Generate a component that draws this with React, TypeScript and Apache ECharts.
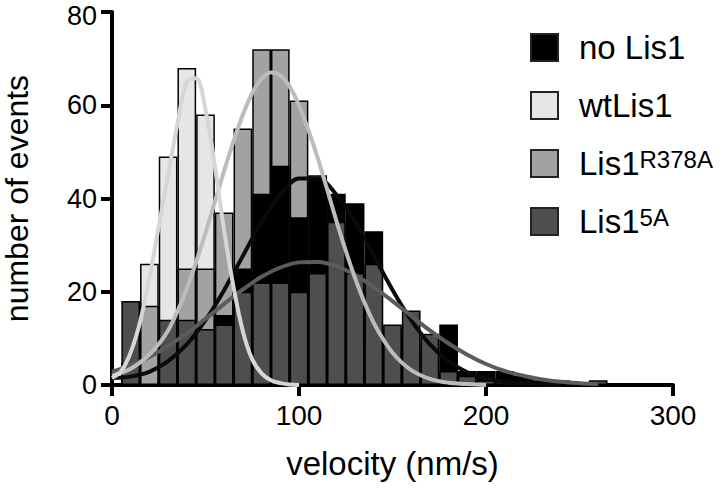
import React, { useEffect, useRef } from "react";
import * as echarts from "echarts";

const FONT = '"Liberation Sans", Arial, Helvetica, sans-serif';

// histogram bin centres (nm/s)
const bins = [10, 20, 30, 40, 50, 60, 70, 80, 90, 100, 110, 120, 130, 140, 150, 160, 170, 180, 190, 200, 210, 220, 230, 240, 250, 260];

// counts per bin
const wtLis1 = [5, 26, 49, 68, 58, 24, 7, 2, 1, 0, 0, 0, 0, 0, 0, 0, 0, 0, 0, 0, 0, 0, 0, 0, 0, 0];
const lis1R378A = [3, 17, 13, 25, 25, 37, 55, 72, 72, 61, 45, 30, 18, 10, 6, 3, 2, 1, 0, 0, 0, 0, 0, 0, 0, 0];
const noLis1 = [0, 0, 3, 6, 9, 15, 25, 41, 47, 36, 44, 41, 39, 33, 12, 10, 8, 13, 3, 3, 3, 2, 1, 1, 0, 0];
const lis15A = [18, 0, 14, 14, 12, 13, 20, 22, 22, 20, 24, 35, 24, 26, 13, 16, 11, 3, 2, 1, 1, 1, 0, 0, 0, 1];

// fitted curves: [velocity, events]
const wtFit = [[0, 1.5], [5, 3], [10, 7], [15, 13.5], [20, 23], [25, 34], [30, 45], [35, 56], [40, 65], [45, 65.8], [50, 59], [55, 47], [60, 33], [65, 21], [70, 11.5], [75, 5.5], [80, 2.5], [85, 1], [90, 0.4], [95, 0.1], [100, 0]];
const r378aFit = [[0, 2], [5, 2.6], [10, 3.5], [15, 4.8], [20, 6.5], [25, 8.8], [30, 11.7], [35, 15.8], [40, 20.7], [45, 26.4], [50, 32.6], [55, 39.3], [60, 46], [65, 52.3], [70, 58], [75, 62.6], [80, 65.7], [85, 67], [90, 66.4], [95, 64], [100, 60], [105, 54.7], [110, 48.7], [115, 42], [120, 35.2], [125, 28.8], [130, 22.9], [135, 17.7], [140, 13.3], [145, 9.8], [150, 6.9], [155, 4.8], [160, 3.2], [165, 2.1], [170, 1.3], [175, 0.8], [180, 0.5], [185, 0.3], [190, 0.2], [195, 0.1], [200, 0]];
const noLis1Fit = [[0, 1.5], [10, 1.8], [20, 2.8], [30, 5.1], [40, 8.7], [50, 13.9], [60, 20.4], [70, 27.7], [80, 35], [90, 40.8], [100, 44.3], [110, 44.3], [120, 40.8], [130, 35], [140, 27.7], [150, 20.4], [160, 13.9], [170, 8.7], [180, 5.1], [190, 2.7], [200, 1.4], [210, 0.6], [220, 0.3], [230, 0.1], [240, 0]];
const lis15AFit = [[0, 2.8], [10, 4.2], [20, 6], [30, 8.4], [40, 11.1], [50, 14.2], [60, 17.4], [70, 20.5], [80, 23.2], [90, 25.2], [100, 26.3], [110, 26.4], [120, 25.5], [130, 23.6], [140, 21], [150, 18], [160, 14.8], [170, 11.7], [180, 8.9], [190, 6.5], [200, 4.5], [210, 3], [220, 2], [230, 1.2], [240, 0.7], [250, 0.4], [260, 0.2]];

// axis ticks
const xMin = 0, xMax = 300, xStep = 100;
const yMin = 0, yMax = 80, yStep = 20;

const legendNames = ["no Lis1", "wtLis1", "Lis1R378A", "Lis15A"];
const legendMain: Record<string, string> = { "no Lis1": "no Lis1", wtLis1: "wtLis1", Lis1R378A: "Lis1", Lis15A: "Lis1" };
const legendSup: Record<string, string> = { "no Lis1": "", wtLis1: "", Lis1R378A: "R378A", Lis15A: "5A" };

const W = 722, H = 491;
const GRID = { left: 112, right: 49, top: 12, bottom: 106 };
const binWidth = 10;

export default function App() {
  const ref = useRef<HTMLDivElement>(null);
  useEffect(() => {
    if (!ref.current) return;
    const chart = echarts.init(ref.current, null, { renderer: "svg" });
    const plotW = W - GRID.left - GRID.right;
    const barW = (plotW / (xMax - xMin)) * binWidth;
    const toPairs = (arr: number[]) => bins.map((b, i) => [b, arr[i]]);

    const barSeries = (name: string, arr: number[], color: string) => ({
      type: "bar",
      name,
      data: toPairs(arr),
      barWidth: barW,
      barGap: "-100%",
      silent: true,
      z: 2,
      itemStyle: { color, borderColor: "#000", borderWidth: 1.5 },
    });
    const lineSeries = (name: string, data: number[][], color: string, z: number) => ({
      type: "line",
      name,
      data,
      smooth: 0.35,
      showSymbol: false,
      symbol: "none",
      silent: true,
      z,
      lineStyle: { color, width: 4 },
    });

    const axisCommon = {
      axisLine: { show: true, lineStyle: { color: "#000", width: 4 } },
      axisTick: { show: true, length: 11, lineStyle: { color: "#000", width: 4 } },
      splitLine: { show: false },
    };

    chart.setOption({
      animation: false,
      backgroundColor: "#fff",
      textStyle: { fontFamily: FONT },
      grid: { ...GRID, containLabel: false, outerBoundsMode: "none" },
      xAxis: {
        type: "value",
        min: xMin,
        max: xMax,
        interval: xStep,
        ...axisCommon,
        axisLabel: { fontSize: 28, color: "#000", margin: 16, fontFamily: FONT },
        name: "velocity (nm/s)",
        nameLocation: "middle",
        nameGap: 62,
        nameTextStyle: { fontSize: 33, color: "#000", fontFamily: FONT },
      },
      yAxis: {
        type: "value",
        min: yMin,
        max: yMax,
        interval: yStep,
        offset: 3,
        ...axisCommon,
        axisLabel: {
          fontSize: 27,
          color: "#000",
          margin: 12,
          fontFamily: FONT,
          formatter: (v: number) => (v === yMax ? `{t|${v}}` : `${v}`),
          rich: { t: { fontSize: 27, color: "#000", fontFamily: FONT, padding: [8, 0, 0, 0] } },
        },
        name: "number of events",
        nameLocation: "middle",
        nameGap: 76,
        nameTextStyle: { fontSize: 32, color: "#000", fontFamily: FONT },
      },
      legend: {
        orient: "vertical",
        left: 525,
        top: 26,
        itemWidth: 27,
        itemHeight: 27,
        itemGap: 25,
        icon: "rect",
        selectedMode: false,
        data: legendNames,
        itemStyle: { borderColor: "#222", borderWidth: 2 },
        formatter: (name: string) =>
          legendSup[name] ? `{g|}{m|${legendMain[name]}}{s|${legendSup[name]}}` : `{g|}{m|${legendMain[name]}}`,
        textStyle: {
          fontSize: 33,
          color: "#000",
          fontFamily: FONT,
          rich: {
            g: { width: 16 },
            m: { fontSize: 33, color: "#000", fontFamily: FONT, lineHeight: 33 },
            s: { fontSize: 24, color: "#000", fontFamily: FONT, verticalAlign: "top", lineHeight: 22 },
          },
        },
      },
      series: [
        barSeries("wtLis1", wtLis1, "#e6e6e6"),
        barSeries("Lis1R378A", lis1R378A, "#a2a2a2"),
        barSeries("no Lis1", noLis1, "#000000"),
        barSeries("Lis15A", lis15A, "#4e4e4e"),
        lineSeries("no Lis1 fit", noLis1Fit, "#0a0a0a", 3),
        lineSeries("Lis15A fit", lis15AFit, "#5c5c5c", 4),
        lineSeries("Lis1R378A fit", r378aFit, "#bcbcbc", 5),
        lineSeries("wtLis1 fit", wtFit, "#d6d6d6", 6),
      ],
    });
    return () => chart.dispose();
  }, []);
  return (
    <div
      ref={ref}
      style={{ position: "fixed", left: 0, top: 0, width: W, height: H, background: "#fff" }}
    />
  );
}
